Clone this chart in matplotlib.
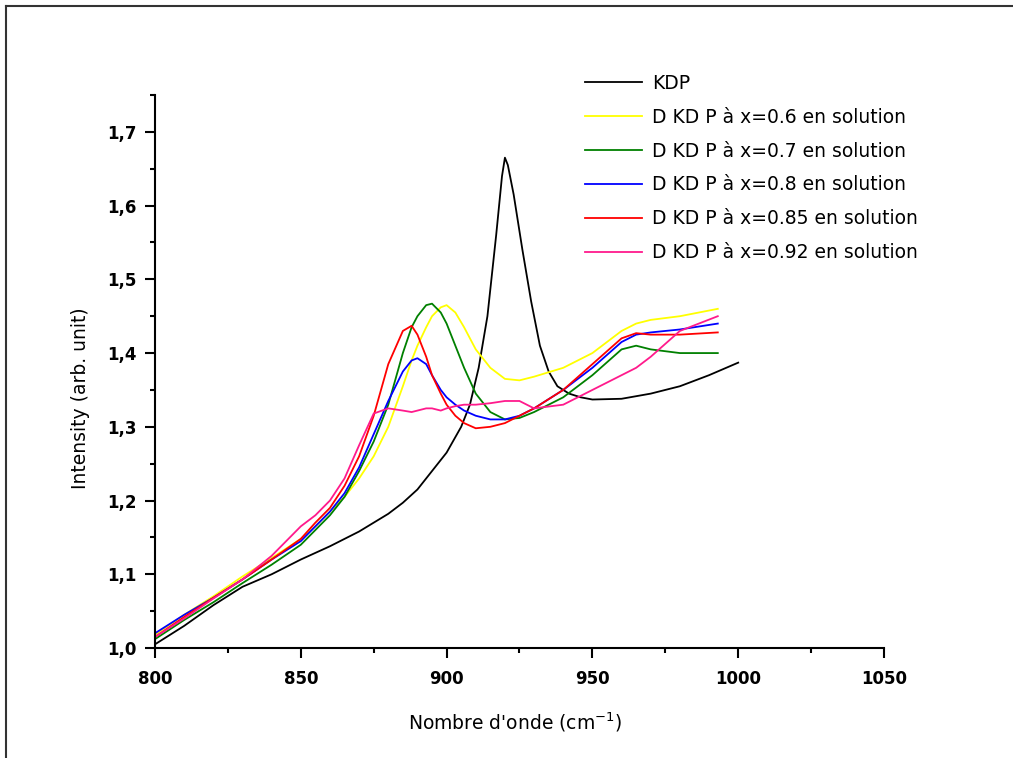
import matplotlib
matplotlib.use("Agg")
import matplotlib.pyplot as plt
from matplotlib.ticker import FuncFormatter, MultipleLocator
from matplotlib.lines import Line2D

# ---- data ----
kdp_x = [800, 810, 820, 830, 840, 850, 860, 870, 880, 885, 890, 895, 900, 905, 908, 911,
         914, 917, 919, 920, 921, 923, 926, 929, 932, 935, 938, 942, 946, 950, 960, 970,
         980, 990, 1000]
kdp_y = [1.005, 1.03, 1.058, 1.083, 1.10, 1.12, 1.138, 1.158, 1.182, 1.197, 1.215, 1.24,
         1.265, 1.30, 1.33, 1.38, 1.45, 1.56, 1.64, 1.665, 1.655, 1.615, 1.54, 1.47, 1.41,
         1.375, 1.355, 1.345, 1.34, 1.337, 1.338, 1.345, 1.355, 1.37, 1.387]

dkdp_x = [800, 810, 820, 830, 840, 850, 855, 860, 865, 870, 875, 880, 885, 888, 890, 893,
          895, 898, 900, 903, 906, 910, 915, 920, 925, 930, 940, 950, 960, 965, 970, 980, 993]

y_06 = [1.018, 1.045, 1.07, 1.097, 1.122, 1.148, 1.165, 1.185, 1.205, 1.23, 1.26, 1.30,
        1.355, 1.39, 1.41, 1.435, 1.45, 1.462, 1.465, 1.455, 1.435, 1.405, 1.38, 1.365,
        1.363, 1.368, 1.38, 1.40, 1.43, 1.44, 1.445, 1.45, 1.46]
y_07 = [1.012, 1.038, 1.062, 1.088, 1.113, 1.14, 1.16, 1.18, 1.205, 1.24, 1.28, 1.33,
        1.40, 1.435, 1.45, 1.465, 1.467, 1.455, 1.44, 1.41, 1.38, 1.345, 1.32, 1.31,
        1.312, 1.32, 1.34, 1.37, 1.405, 1.41, 1.405, 1.40, 1.40]
y_08 = [1.02, 1.045, 1.068, 1.093, 1.12, 1.145, 1.165, 1.185, 1.21, 1.245, 1.29, 1.335,
        1.375, 1.39, 1.393, 1.385, 1.37, 1.35, 1.34, 1.33, 1.322, 1.315, 1.31, 1.31,
        1.315, 1.325, 1.35, 1.38, 1.415, 1.425, 1.428, 1.432, 1.44]
y_085 = [1.015, 1.042, 1.068, 1.093, 1.12, 1.148, 1.17, 1.19, 1.22, 1.26, 1.315, 1.385,
         1.43, 1.437, 1.425, 1.395, 1.37, 1.345, 1.33, 1.315, 1.305, 1.298, 1.30, 1.305,
         1.315, 1.325, 1.35, 1.385, 1.42, 1.427, 1.425, 1.425, 1.428]
y_092 = [1.015, 1.04, 1.067, 1.093, 1.125, 1.165, 1.18, 1.20, 1.23, 1.275, 1.318, 1.325,
         1.322, 1.32, 1.322, 1.325, 1.325, 1.322, 1.325, 1.328, 1.33, 1.33, 1.332, 1.335,
         1.335, 1.325, 1.33, 1.35, 1.37, 1.38, 1.395, 1.43, 1.45]

labels = ["KDP",
          "D KD P à x=0.6 en solution",
          "D KD P à x=0.7 en solution",
          "D KD P à x=0.8 en solution",
          "D KD P à x=0.85 en solution",
          "D KD P à x=0.92 en solution"]
colors = ["#000000", "#ffff00", "#008000", "#0000ff", "#ff0000", "#ff1a8c"]

x_ticks = [800, 850, 900, 950, 1000, 1050]
y_ticks = [1.0, 1.1, 1.2, 1.3, 1.4, 1.5, 1.6, 1.7]

# ---- figure ----
fig = plt.figure(figsize=(10.13, 7.58), dpi=100)
ax = fig.add_axes([155/1013, 1 - 648/758, (884-155)/1013, (648-95)/758])

series = [(kdp_x, kdp_y), (dkdp_x, y_06), (dkdp_x, y_07), (dkdp_x, y_08),
          (dkdp_x, y_085), (dkdp_x, y_092)]
handles = []
for (xs, ys), c, lab in zip(series, colors, labels):
    h, = ax.plot(xs, ys, color=c, lw=1.3, label=lab)
    handles.append(h)

ax.set_xlim(800, 1050)
ax.set_ylim(1.0, 1.75)
ax.set_xticks(x_ticks)
ax.set_yticks(y_ticks)
ax.xaxis.set_minor_locator(MultipleLocator(25))
ax.yaxis.set_minor_locator(MultipleLocator(0.05))
ax.yaxis.set_major_formatter(FuncFormatter(lambda v, p: f"{v:.1f}".replace(".", ",")))
ax.xaxis.set_major_formatter(FuncFormatter(lambda v, p: f"{v:.0f}"))

for s in ["top", "right"]:
    ax.spines[s].set_visible(False)
for s in ["left", "bottom"]:
    ax.spines[s].set_linewidth(1.5)

ax.tick_params(which="major", direction="out", length=7, width=1.5, labelsize=12)
ax.tick_params(which="minor", direction="out", length=3.5, width=1.5)
ax.tick_params(axis="x", which="major", pad=9)
ax.tick_params(axis="y", which="major", pad=6)
for t in ax.get_xticklabels() + ax.get_yticklabels():
    t.set_fontweight("bold")

fig.text(80/1013, 1 - 398/758, "Intensity (arb. unit)", rotation=90,
         ha="center", va="center", fontsize=13.5)
fig.text(515/1013, 1 - 722/758, "Nombre d'onde (cm$^{-1}$)",
         ha="center", va="center", fontsize=13.5)

fig.legend(handles=handles, labels=labels, loc="upper left",
           bbox_to_anchor=(585/1013, 1 - 74/758), frameon=False, fontsize=13.5,
           handlelength=3.04, handletextpad=0.53, labelspacing=0.79,
           borderpad=0, borderaxespad=0)

# outer frame lines (top and left)
fig.add_artist(Line2D([6/1013, 1], [1 - 6/758, 1 - 6/758], color="#333333", lw=1.5,
                      transform=fig.transFigure))
fig.add_artist(Line2D([6/1013, 6/1013], [0, 1 - 6/758], color="#333333", lw=1.5,
                      transform=fig.transFigure))

fig.savefig("out.png", dpi=100)
